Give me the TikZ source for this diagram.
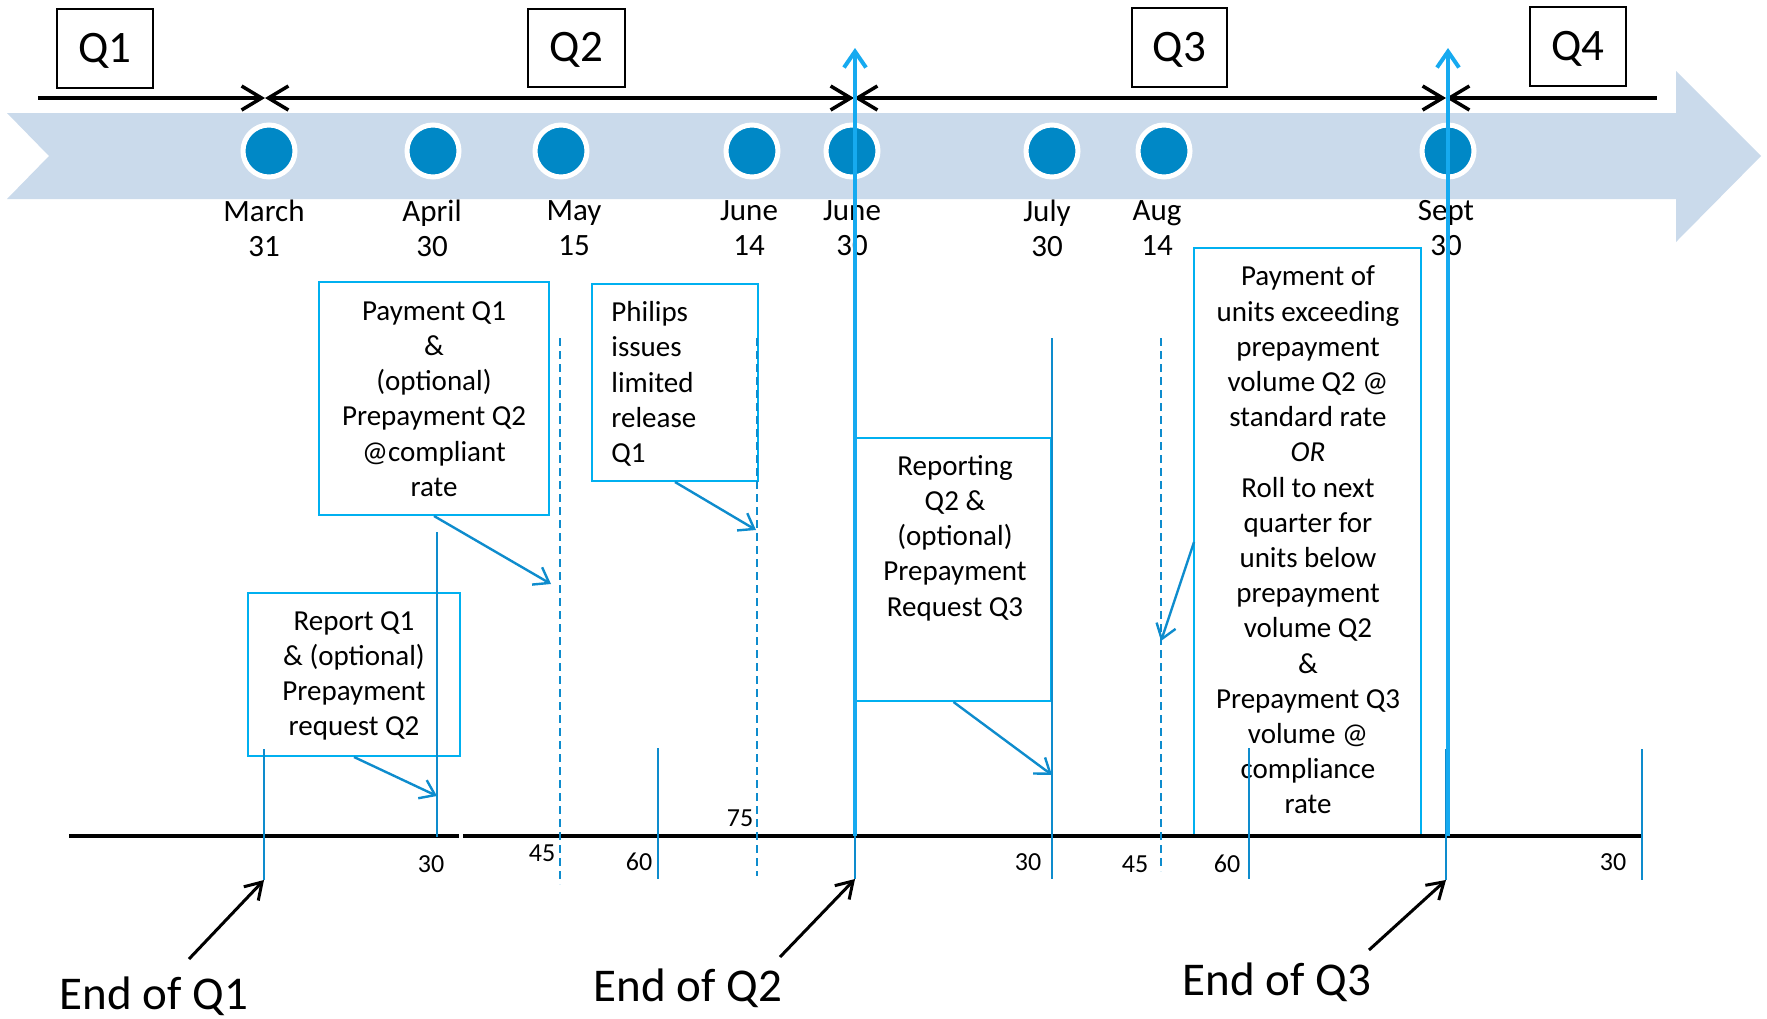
\documentclass[tikz,border=0pt]{standalone}
\usepackage{fontspec}
\setmainfont{Carlito}
\usetikzlibrary{arrows.meta,fit}
\definecolor{dotblue}{RGB}{0,136,198}
\definecolor{bandblue}{RGB}{202,218,235}
\definecolor{cyanline}{RGB}{0,176,240}
\definecolor{thinblue}{RGB}{14,140,205}
\definecolor{arrowblue}{RGB}{22,170,240}
\begin{document}
\begin{tikzpicture}[x=0.5pt,y=-0.5pt,
  boxfont/.style={font=\fontsize{14.5}{17.6}\selectfont},
  bluebox/.style={draw=cyanline,line width=1pt,inner sep=0pt},
  boxtext/.style={inner sep=0pt,align=center,boxfont},
  qbox/.style={draw=black,line width=1pt,inner sep=0pt},
  qtext/.style={inner sep=0pt,font=\fontsize{22.5}{26}\selectfont},
  datelabel/.style={inner sep=0pt,align=center,font=\fontsize{15.5}{17.5}\selectfont},
  daynum/.style={inner sep=0pt,font=\fontsize{13}{15}\selectfont},
  endlabel/.style={inner sep=0pt,font=\fontsize{23.5}{28}\selectfont},
  dot/.style={circle,fill=dotblue,draw=white,line width=2.5pt,minimum size=26pt,inner sep=0pt},
  tick/.style={draw=thinblue,line width=1pt},
  dashtick/.style={draw=thinblue,line width=1pt,dash pattern=on 4pt off 2.5pt},
  callout/.style={draw=thinblue,line width=1.2pt,-{Straight Barb[length=7pt,width=10pt]}},
  bigarrow/.style={draw=arrowblue,line width=2pt,-{Straight Barb[length=8pt,width=11pt]}},
  tline/.style={draw=black,line width=1.75pt},
  bline/.style={draw=black,line width=2pt},
  endarrow/.style={draw=black,line width=1.5pt,-{Straight Barb[length=8pt,width=10pt]}},
]
\path[use as bounding box] (0,0) rectangle (1767,1018);

% band arrow
\fill[bandblue] (7,113) -- (1676,113) -- (1676,71) -- (1761,156) -- (1676,242) -- (1676,199) -- (7,199) -- (49,156) -- cycle;

% quarter boxes
\node[qbox, fit={(57,9) (153,88)}] (q1) {};
\node[qbox, fit={(528,9) (625,87)}] (q2) {};
\node[qbox, fit={(1132,8) (1227,87)}] (q3) {};
\node[qbox, fit={(1530,7) (1626,86)}] (q4) {};
\node[qtext] (q1t) at ([yshift=-1pt]q1.center) {Q1};
\node[qtext] (q2t) at ([yshift=-1pt]q2.center) {Q2};
\node[qtext] (q3t) at ([yshift=-1pt]q3.center) {Q3};
\node[qtext] (q4t) at ([yshift=-1pt]q4.center) {Q4};

% top timeline
\coordinate (t0) at (38,98);
\coordinate (t1) at (265,98);
\coordinate (t2) at (854,98);
\coordinate (t3) at (1446,98);
\coordinate (t4) at (1657,98);
\draw[tline,-{Straight Barb[length=10pt,width=12pt]}] (t0) -- (t1);
\draw[tline,{Straight Barb[length=10pt,width=12pt]}-{Straight Barb[length=10pt,width=12pt]}] (t1) -- (t2);
\draw[tline,{Straight Barb[length=10pt,width=12pt]}-{Straight Barb[length=10pt,width=12pt]}] (t2) -- (t3);
\draw[tline,{Straight Barb[length=10pt,width=12pt]}-] (t3) -- (t4);

% dots
\node[dot] (d1) at (269,151) {};
\node[dot] (d2) at (433,151) {};
\node[dot] (d3) at (561,151) {};
\node[dot] (d4) at (752,151) {};
\node[dot] (d5) at (852,151) {};
\node[dot] (d6) at (1052,151) {};
\node[dot] (d7) at (1164,151) {};
\node[dot] (d8) at (1448,151) {};

% date labels
\node[datelabel] (l1) at (264,228) {March\\31};
\node[datelabel] (l2) at (432,228) {April\\30};
\node[datelabel] (l3) at (574,228) {May\\15};
\node[datelabel] (l4) at (749,228) {June\\14};
\node[datelabel] (l5) at (852,228) {June\\30};
\node[datelabel] (l6) at (1047,228) {July\\30};
\node[datelabel] (l7) at (1157,228) {Aug\\14};
\node[datelabel] (l8) at (1446,228) {Sept\\30};

% boxes
\node[bluebox, fit={(319,282) (549,515)}] (pq1) {};
\node[boxtext] (pq1t) at (434,399) {Payment Q1\\\&\\(optional)\\Prepayment Q2\\@compliant\\rate};
\node[bluebox, fit={(592,284) (758,481)}] (phil) {};
\node[boxtext, align=left, anchor=west] (philt) at (611,384) {Philips\\issues\\limited\\release\\Q1};
\node[bluebox, fit={(248,593) (460,756)}] (rq1) {};
\node[boxtext] (rq1t) at (354,676) {Report Q1\\\& (optional)\\Prepayment\\request Q2};
\node[bluebox, fit={(856,438) (1051,701)}] (rq2) {};
\node[boxtext] (rq2t) at (955,538) {Reporting\\Q2 \&\\(optional)\\Prepayment\\Request Q3};
\node[bluebox, fit={(1194,248) (1421,836)}] (pay) {};
\node[boxtext] (payt) at (1308,540) {Payment of\\units exceeding\\prepayment\\volume Q2 @\\standard rate\\\textit{OR}\\Roll to next\\quarter for\\units below\\prepayment\\volume Q2\\\&\\Prepayment Q3\\volume @\\compliance\\rate};

% bottom line
\coordinate (b0) at (69,836);
\coordinate (b1) at (459,836);
\coordinate (b2) at (463,836);
\coordinate (b3) at (1642,836);
\draw[bline] (b0) -- (b1);
\draw[bline] (b2) -- (b3);

% solid ticks
\draw[tick] (264,749) coordinate (k1a) -- (264,880) coordinate (k1b);
\draw[tick] (437,532) coordinate (k2a) -- (437,837) coordinate (k2b);
\draw[tick] (658,748) coordinate (k3a) -- (658,879) coordinate (k3b);
\draw[tick] (855,748) coordinate (k4a) -- (855,879) coordinate (k4b);
\draw[tick] (1052,338) coordinate (k5a) -- (1052,879) coordinate (k5b);
\draw[tick] (1249,748) coordinate (k6a) -- (1249,879) coordinate (k6b);
\draw[tick] (1446,749) coordinate (k7a) -- (1446,880) coordinate (k7b);
\draw[tick] (1642,749) coordinate (k8a) -- (1642,880) coordinate (k8b);

% dashed ticks
\draw[dashtick] (560,338) coordinate (m1a) -- (560,884) coordinate (m1b);
\draw[dashtick] (757,338) coordinate (m2a) -- (757,876) coordinate (m2b);
\draw[dashtick] (1161,338) coordinate (m3a) -- (1161,871) coordinate (m3b);

% big blue arrows
\coordinate (j2b) at (855,836);
\coordinate (j2t) at (855,48);
\coordinate (j3b) at (1448,836);
\coordinate (j3t) at (1448,48);
\draw[bigarrow] (j2b) -- (j2t);
\draw[bigarrow] (j3b) -- (j3t);

% callout arrows
\coordinate (a1) at (551,584);
\coordinate (a2) at (756,530);
\coordinate (a3) at (437,796);
\coordinate (a4) at (1052,775);
\coordinate (a5) at (1161,641);
\coordinate (a5s) at (1194,542);
\draw[callout] (pq1.south) -- (a1);
\draw[callout] (phil.south) -- (a2);
\draw[callout] (rq1.south) -- (a3);
\draw[callout] (rq2.south) -- (a4);
\draw[callout] (a5s) -- (a5);

% day numbers
\node[daynum] (n1) at (431,864) {30};
\node[daynum] (n2) at (542,853) {45};
\node[daynum] (n3) at (639,862) {60};
\node[daynum] (n4) at (740,818) {75};
\node[daynum] (n5) at (1028,862) {30};
\node[daynum] (n6) at (1135,864) {45};
\node[daynum] (n7) at (1227,864) {60};
\node[daynum] (n8) at (1613,862) {30};

% end labels
\node[endlabel] (e1) at (154,996) {End of Q1};
\node[endlabel] (e2) at (688,988) {End of Q2};
\node[endlabel] (e3) at (1277,982) {End of Q3};
\coordinate (e1s) at (189,959);
\coordinate (e2s) at (780,957);
\coordinate (e3s) at (1369,950);
\draw[endarrow] (e1s) -- (k1b);
\draw[endarrow] (e2s) -- (k4b);
\draw[endarrow] (e3s) -- (k7b);
\end{tikzpicture}
\end{document}
